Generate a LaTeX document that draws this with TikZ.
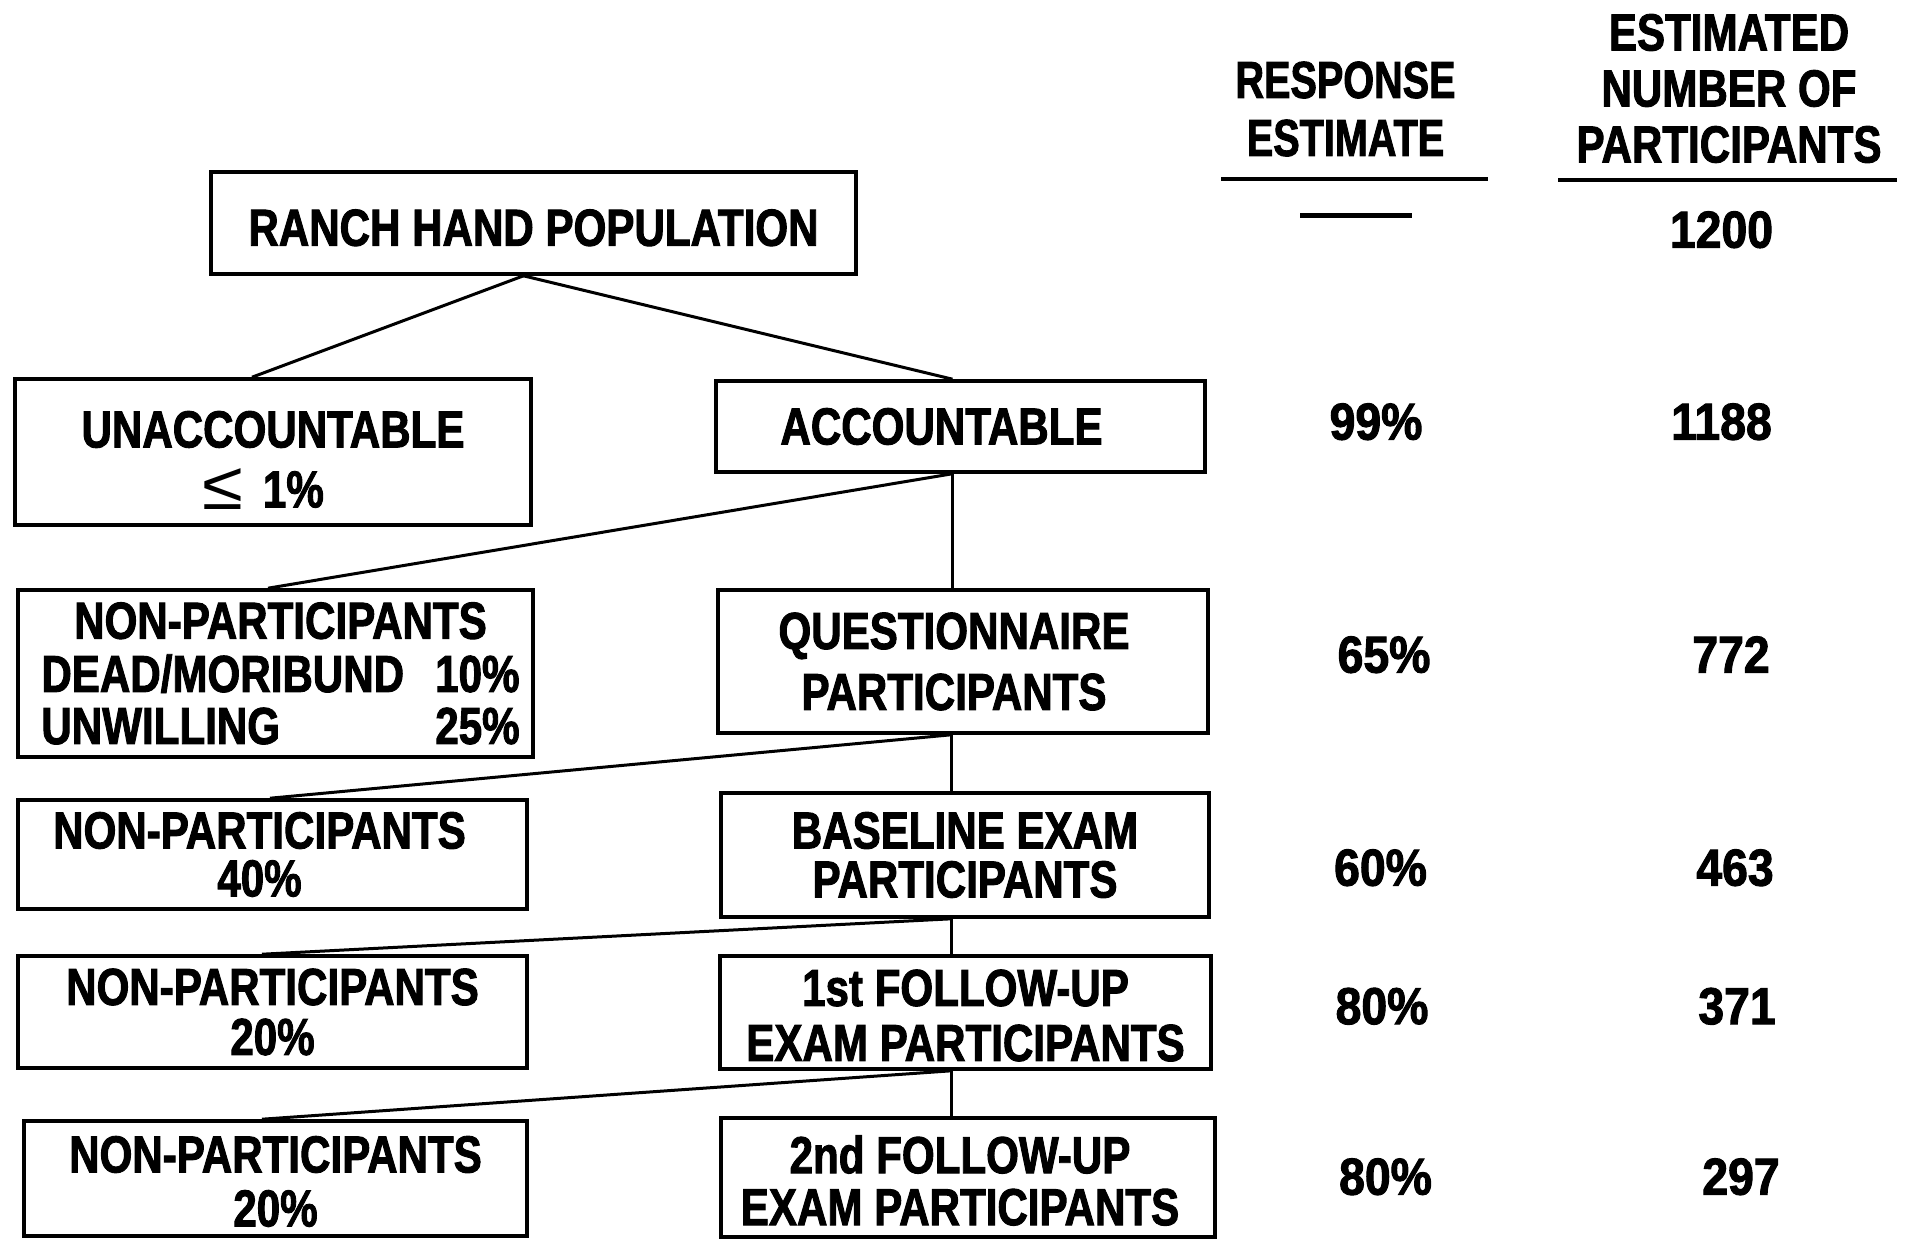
\documentclass[tikz,border=0pt]{standalone}
\usepackage{fontspec}
\usepackage{graphicx}
\setmainfont{Liberation Sans}[FakeStretch=0.81, BoldFeatures={FakeBold=1.8}]
\usetikzlibrary{calc}
\newcommand\fz[1]{\fontsize{26}{#1}\selectfont}
\newcommand\wide[1]{\scalebox{1.1}[1]{#1}}
\newcommand\lowr[2]{\raisebox{-#1}[\height][\depth]{#2}}
\begin{document}
\begin{tikzpicture}[x=0.5pt,y=-0.5pt,
  bx/.style={draw, line width=1.8pt, align=center, inner sep=0pt},
  lk/.style={line width=1.5pt},
  col/.style={inner sep=0pt, font=\bfseries\fz{28}, text height=18.6pt, text depth=0pt},
  hd/.style={inner sep=0pt, align=center},
  rulel/.style={line width=2.2pt}]
\useasboundingbox[fill=white] (0,0) rectangle (1909,1238);
% boxes
\node[bx, minimum width=322.5pt, minimum height=51pt, font=\bfseries\fz{30}] (ranch) at (533.5,223) {\lowr{2.4pt}{RANCH HAND POPULATION}};
\node[bx, minimum width=258pt, minimum height=73pt, font=\bfseries\fz{30}] (unacc) at (273,452)
  {\lowr{3.7pt}{UNACCOUNTABLE}\\\lowr{3.7pt}{\hspace*{-10pt}\raisebox{-1pt}[0pt][0pt]{\mdseries\fontsize{34}{30}\selectfont\scalebox{1.35}[1]{≤}}\hspace{10pt}1\%}};
\node[bx, minimum width=244.5pt, minimum height=45.5pt, font=\bfseries\fz{30}] (acc) at (960.5,426.5) {\hspace*{-19pt}ACCOUNTABLE};
\node[bx, minimum width=257.5pt, minimum height=83.5pt, font=\bfseries\fz{26}] (np1) at (275.5,673.5)
  {\lowr{3.7pt}{\hspace*{5pt}\begin{tabular}{@{}l@{\hspace{0.6em}}r@{}}\multicolumn{2}{c}{NON-PARTICIPANTS}\\ DEAD/MORIBUND & 10\%\\ UNWILLING & 25\%\end{tabular}}};
\node[bx, minimum width=245pt, minimum height=71.5pt, font=\bfseries\fz{30.5}] (quest) at (963,661.5) {\hspace*{-9pt}QUESTIONNAIRE\\\hspace*{-9pt}PARTICIPANTS};
\node[bx, minimum width=254.5pt, minimum height=54.5pt, font=\bfseries\fz{24}] (np2) at (272.5,854.5) {\hspace*{-13pt}NON-PARTICIPANTS\\\hspace*{-13pt}40\%};
\node[bx, minimum width=244pt, minimum height=62pt, font=\bfseries\fz{24.5}] (base) at (965,855) {BASELINE EXAM\\PARTICIPANTS};
\node[bx, minimum width=254.5pt, minimum height=56pt, font=\bfseries\fz{25}] (np3) at (272.5,1012) {NON-PARTICIPANTS\\20\%};
\node[bx, minimum width=245.5pt, minimum height=56.5pt, font=\bfseries\fz{27.5}] (fu1) at (965.5,1012.5) {\lowr{1.5pt}{1st FOLLOW-UP}\\\lowr{1.5pt}{EXAM PARTICIPANTS}};
\node[bx, minimum width=251.5pt, minimum height=57.5pt, font=\bfseries\fz{27}] (np4) at (275.5,1178.5) {\lowr{1.5pt}{NON-PARTICIPANTS}\\\lowr{1.5pt}{20\%}};
\node[bx, minimum width=247pt, minimum height=59.5pt, font=\bfseries\fz{26}] (fu2) at (968,1177.5) {\lowr{1.5pt}{\hspace*{-8pt}2nd FOLLOW-UP}\\\lowr{1.5pt}{\hspace*{-8pt}EXAM PARTICIPANTS}};
% connectors
\draw[lk] ($(ranch.south)+(-10,0)$) -- ($(unacc.north)+(-21,0)$);
\draw[lk] ($(ranch.south)+(-10,0)$) -- ($(acc.north)+(-8,0)$);
\draw[lk] ($(acc.south)+(-8.5,0)$) -- ($(np1.north)+(-7.5,0)$);
\draw[lk] ($(acc.south)+(-8.5,0)$) -- ($(quest.north)+(-11,0)$);
\draw[lk] ($(quest.south)+(-12,0)$) -- ($(np2.north)+(-2.5,0)$);
\draw[lk] ($(quest.south)+(-12,0)$) -- ($(base.north)+(-14,0)$);
\draw[lk] ($(base.south)+(-14,0)$) -- ($(np3.north)+(-10.5,0)$);
\draw[lk] ($(base.south)+(-14,0)$) -- ($(fu1.north)+(-14.5,0)$);
\draw[lk] ($(fu1.south)+(-14.5,0)$) -- ($(np4.north)+(-13.5,0)$);
\draw[lk] ($(fu1.south)+(-14.5,0)$) -- ($(fu2.north)+(-17,0)$);
% headers
\node[hd, font=\bfseries\fz{29}] (hresp) at (1345.5,109) {\scalebox{0.94}[1]{RESPONSE}\\\scalebox{0.94}[1]{ESTIMATE}};
\node[hd, font=\bfseries\fz{28}] (hnum) at (1729,88.5) {ESTIMATED\\NUMBER OF\\PARTICIPANTS};
\draw[rulel] (1221,179) -- (1488,179);
\draw[rulel] (1558,180) -- (1897,180);
\draw[rulel] (1300,215.5) -- (1412,215.5);
% values
\node[col] (n0) at (1721.5,229) {\wide{1200}};
\node[col] (r1) at (1376,421) {\wide{99\%}};
\node[col] (n1) at (1721.5,421) {\wide{1188}};
\node[col] (r2) at (1384,654) {\wide{65\%}};
\node[col] (n2) at (1731,654) {\wide{772}};
\node[col] (r3) at (1380.5,867) {\wide{60\%}};
\node[col] (n3) at (1735,867) {\wide{463}};
\node[col] (r4) at (1382,1005.5) {\wide{80\%}};
\node[col] (n4) at (1737,1005.5) {\wide{371}};
\node[col] (r5) at (1385.5,1176) {\wide{80\%}};
\node[col] (n5) at (1741,1176) {\wide{297}};
\end{tikzpicture}
\end{document}
